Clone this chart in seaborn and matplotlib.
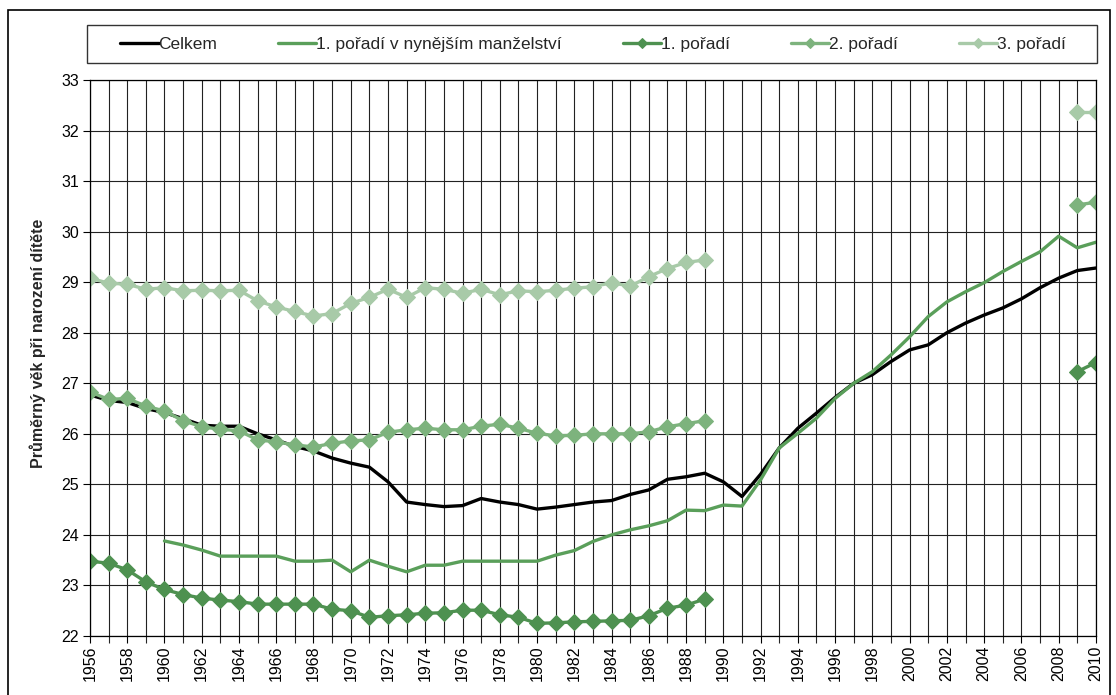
import numpy as np
import pandas as pd
import matplotlib
matplotlib.use("Agg")
import matplotlib.pyplot as plt
import seaborn as sns
from matplotlib.patches import Rectangle

sns.set_theme(style="white")
plt.rcParams['font.family'] = ['Liberation Sans', 'DejaVu Sans']

# data
years = list(range(1956, 2011))
celkem = [26.77, 26.66, 26.62, 26.50, 26.42, 26.30, 26.17, 26.15, 26.15, 26.00,
          25.88, 25.75, 25.66, 25.52, 25.42, 25.34, 25.05, 24.65, 24.60, 24.56,
          24.58, 24.72, 24.65, 24.60, 24.51, 24.55, 24.60, 24.65, 24.68, 24.80,
          24.89, 25.10, 25.15, 25.22, 25.05, 24.76, 25.20, 25.72, 26.11, 26.41,
          26.72, 27.00, 27.17, 27.43, 27.66, 27.76, 28.00, 28.19, 28.35, 28.49,
          28.67, 28.89, 29.08, 29.23, 29.28]

years_manz = list(range(1960, 2011))
manz = [23.88, 23.80, 23.70, 23.58, 23.58, 23.58, 23.58, 23.48, 23.48, 23.50,
        23.27, 23.50, 23.38, 23.27, 23.40, 23.40, 23.48, 23.48, 23.48, 23.48,
        23.48, 23.60, 23.69, 23.87, 24.00, 24.10, 24.18, 24.28, 24.49, 24.48,
        24.59, 24.57, 25.09, 25.72, 26.01, 26.31, 26.70, 27.00, 27.23, 27.56,
        27.92, 28.32, 28.61, 28.81, 28.99, 29.21, 29.41, 29.60, 29.91, 29.68,
        29.79]

years_a = list(range(1956, 1990))
years_b = [2009, 2010]
poradi1_a = [23.48, 23.44, 23.31, 23.07, 22.92, 22.82, 22.75, 22.71, 22.68, 22.63,
             22.63, 22.63, 22.63, 22.53, 22.50, 22.37, 22.40, 22.42, 22.45, 22.46,
             22.51, 22.51, 22.42, 22.37, 22.25, 22.26, 22.28, 22.29, 22.30, 22.31,
             22.40, 22.55, 22.61, 22.73]
poradi1_b = [27.23, 27.41]
poradi2_a = [26.83, 26.68, 26.70, 26.55, 26.45, 26.26, 26.14, 26.09, 26.06, 25.88,
             25.84, 25.78, 25.74, 25.81, 25.86, 25.88, 26.03, 26.08, 26.11, 26.08,
             26.08, 26.15, 26.19, 26.11, 26.01, 25.96, 25.97, 26.00, 26.00, 26.00,
             26.04, 26.14, 26.20, 26.26]
poradi2_b = [30.53, 30.58]
poradi3_a = [29.08, 28.98, 28.96, 28.86, 28.89, 28.83, 28.84, 28.83, 28.84, 28.63,
             28.51, 28.42, 28.33, 28.38, 28.58, 28.70, 28.86, 28.70, 28.89, 28.86,
             28.78, 28.86, 28.75, 28.83, 28.81, 28.84, 28.88, 28.91, 28.99, 28.92,
             29.11, 29.27, 29.39, 29.44]
poradi3_b = [32.36, 32.36]

fig = plt.figure(figsize=(11.16, 6.95), dpi=100)
ax = fig.add_axes([0.0806, 0.0849, 0.9014, 0.80])

# outer frame like the Excel chart area
fig.patches.append(Rectangle((8 / 1116, -0.05), 1102 / 1116, 1 - 10 / 695 + 0.05,
                             transform=fig.transFigure, fill=False,
                             edgecolor="black", linewidth=1.2))
# legend frame
fig.patches.append(Rectangle((87 / 1116, 1 - 63 / 695), 1010 / 1116, 38 / 695,
                             transform=fig.transFigure, fill=False,
                             edgecolor="#333333", linewidth=1.0))

c_manz = "#5a9f5a"
c1 = "#4e9150"
c2 = "#7db37d"
c3 = "#a8caa8"

sns.lineplot(x=years, y=celkem, ax=ax, color="black", linewidth=2.4, label="Celkem")
sns.lineplot(x=years_manz, y=manz, ax=ax, color=c_manz, linewidth=2.4,
             label="1. pořadí v nynějším manželství")
for xa, ya, xb, yb, col, lab in [(years_a, poradi1_a, years_b, poradi1_b, c1, "1. pořadí"),
                                 (years_a, poradi2_a, years_b, poradi2_b, c2, "2. pořadí"),
                                 (years_a, poradi3_a, years_b, poradi3_b, c3, "3. pořadí")]:
    sns.lineplot(x=xa, y=ya, ax=ax, color=col, linewidth=2.4, marker="D",
                 markersize=8.5, markeredgecolor=col, label=lab)
    sns.lineplot(x=xb, y=yb, ax=ax, color=col, linewidth=2.4, marker="D",
                 markersize=8.5, markeredgecolor=col, label="_nolegend_")

ax.set_xlim(1956, 2010)
ax.set_ylim(22, 33)
ax.set_yticks(range(22, 34))
ax.set_xticks(range(1956, 2011, 2))
ax.set_xticks(range(1956, 2011), minor=True)
ax.set_xticklabels([str(y) for y in range(1956, 2011, 2)], rotation=90)
ax.tick_params(axis="both", labelsize=11.5, colors="black")
ax.tick_params(axis="x", which="both", direction="out", length=5, width=0.8,
               bottom=True, pad=2)
ax.tick_params(axis="y", direction="out", length=5, width=0.8, left=True, pad=3)
ax.grid(True, which="both", color="#222222", linewidth=0.8)
for s in ax.spines.values():
    s.set_color("black")
    s.set_linewidth(0.9)
ax.set_xlabel("")
ax.set_ylabel("Průměrný věk při narození dítěte", fontsize=11.5, fontweight="bold")
ax.yaxis.set_label_coords(-0.044, 0.527)

leg = ax.legend(loc="center", bbox_to_anchor=(593 / 1116, 1 - 44 / 695),
                bbox_transform=fig.transFigure, ncol=5, fontsize=12.5,
                frameon=False, handlelength=2.2, handletextpad=0.0,
                columnspacing=3.5, markerscale=0.6)

fig.savefig("out.png", dpi=100)
